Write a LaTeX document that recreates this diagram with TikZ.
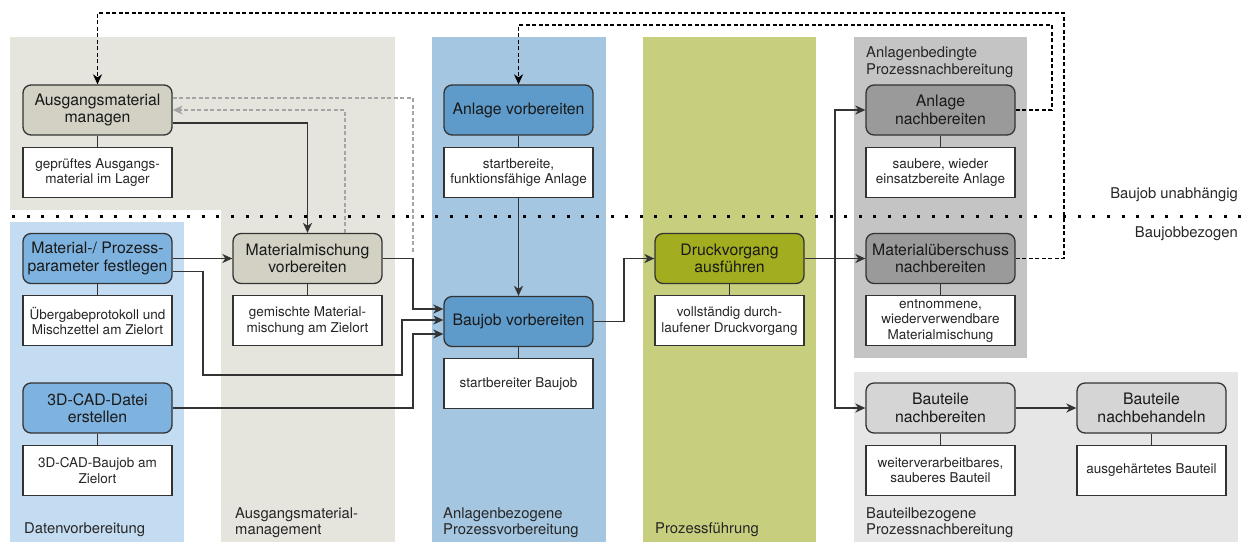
\documentclass[tikz,border=0pt]{standalone}
\usepackage{fontspec}
\setmainfont{TeX Gyre Heros}
\usetikzlibrary{positioning,arrows.meta}
\definecolor{laneBeige}{HTML}{E6E5DD}
\definecolor{nodeBeige}{HTML}{D3D1C3}
\definecolor{laneLightBlue}{HTML}{C4DCF1}
\definecolor{nodeLightBlue}{HTML}{7FB3DF}
\definecolor{laneBlue}{HTML}{A4C6E0}
\definecolor{nodeBlue}{HTML}{5E9BCA}
\definecolor{laneOlive}{HTML}{C7CE7E}
\definecolor{nodeOlive}{HTML}{A2AE1F}
\definecolor{laneGray}{HTML}{C4C4C4}
\definecolor{nodeGray}{HTML}{9A9A9A}
\definecolor{laneLightGray}{HTML}{E6E6E6}
\definecolor{nodeLightGray}{HTML}{D5D5D5}
\definecolor{lineGray}{HTML}{333333}
\definecolor{dashGray}{HTML}{A5A5A5}
\begin{document}
\begin{tikzpicture}[x=1pt, y=-1pt,
    task/.style={draw=lineGray, line width=1.3pt, rounded corners=8pt, minimum width=149pt, minimum height=50pt, inner sep=1pt, align=center, text=black!90, font=\fontsize{15.8}{17.5}\selectfont},
    result/.style={draw=lineGray, line width=1.3pt, fill=white, minimum width=149pt, minimum height=50pt, inner sep=1pt, align=center, text=black!85, font=\fontsize{13.5}{15.5}\selectfont, below=11pt of #1},
    link/.style={draw=lineGray, line width=1.4pt},
    flow/.style={link, -{Stealth[length=10pt,width=9pt,inset=3pt]}},
    backflow/.style={line width=1.4pt, dash pattern=on 4pt off 2.5pt, -{Stealth[length=10pt,width=9pt,inset=3pt]}},
    greyflow/.style={backflow, dashGray},
    lanetext/.style={anchor=north west, inner sep=0pt, align=left, text=black!85, font=\fontsize{14.8}{16.5}\selectfont}]
    \useasboundingbox (0,0) rectangle (1244,542);

    % Lanes
    \fill[laneBeige] (10,37) rectangle (395,210);
    \fill[laneBeige] (221,210) rectangle (395,542);
    \fill[laneLightBlue] (10,222) rectangle (184,542);
    \fill[laneBlue] (432,37) rectangle (606,542);
    \fill[laneOlive] (643,37) rectangle (816,542);
    \fill[laneGray] (854,37) rectangle (1027,358);
    \fill[laneLightGray] (854,372) rectangle (1238,542);

    \node[lanetext] (l1) at (24,522) {Datenvorbereitung};
    \node[lanetext] (l2) at (235,507) {Ausgangsmaterial-\\management};
    \node[lanetext] (l3) at (443,507) {Anlagenbezogene\\Prozessvorbereitung};
    \node[lanetext] (l4) at (655,522) {Prozessführung};
    \node[lanetext] (l5) at (866,47) {Anlagenbedingte\\Prozessnachbereitung};
    \node[lanetext] (l6) at (866,507) {Bauteilbezogene\\Prozessnachbereitung};

    % Baujob border
    \draw[line width=3pt, dash pattern=on 3pt off 11.6pt] (12,216) -- (1244,216);
    \node[lanetext, anchor=north east] (up) at (1238,188) {Baujob unabhängig};
    \node[lanetext, anchor=north east] (down) at (1238,227) {Baujobbezogen};

    % Tasks
    \node[task, fill=nodeBeige] (am) at (97.5,110) {Ausgangsmaterial\\managen};
    \node[result=am] (amr) {geprüftes Ausgangs-\\material im Lager};
    \node[task, fill=nodeLightBlue] (mp) at (97.5,258.5) {Material-/ Prozess-\\parameter festlegen};
    \node[result=mp] (mpr) {Übergabeprotokoll und\\Mischzettel am Zielort};
    \node[task, fill=nodeLightBlue] (cad) at (97.5,408) {3D-CAD-Datei\\erstellen};
    \node[result=cad] (cadr) {3D-CAD-Baujob am\\Zielort};
    \node[task, fill=nodeBeige] (mm) at (307.5,258.5) {Materialmischung\\vorbereiten};
    \node[result=mm] (mmr) {gemischte Material-\\mischung am Zielort};
    \node[task, fill=nodeBlue] (av) at (518.5,110) {Anlage vorbereiten};
    \node[result=av] (avr) {startbereite,\\funktionsfähige Anlage};
    \node[task, fill=nodeBlue] (bj) at (518.5,321.5) {Baujob vorbereiten};
    \node[result=bj] (bjr) {startbereiter Baujob};
    \node[task, fill=nodeOlive] (dv) at (729.5,258.5) {Druckvorgang\\ausführen};
    \node[result=dv] (dvr) {vollständig durch-\\laufener Druckvorgang};
    \node[task, fill=nodeGray] (an) at (940.5,110) {Anlage\\nachbereiten};
    \node[result=an] (anr) {saubere, wieder\\einsatzbereite Anlage};
    \node[task, fill=nodeGray] (mu) at (940.5,258.5) {Materialüberschuss\\nachbereiten};
    \node[result=mu] (mur) {entnommene,\\wiederverwendbare\\Materialmischung};
    \node[task, fill=nodeLightGray] (bn) at (940.5,408) {Bauteile\\nachbereiten};
    \node[result=bn] (bnr) {weiterverarbeitbares,\\sauberes Bauteil};
    \node[task, fill=nodeLightGray] (bb) at (1151.5,408) {Bauteile\\nachbehandeln};
    \node[result=bb] (bbr) {ausgehärtetes Bauteil};

    % Results
    \foreach \t in {am,mp,cad,mm,av,bj,dv,an,mu,bn,bb}
        \draw[link] (\t) -- (\t r);

    % Flows
    \draw[flow] ([yshift=-13pt]am.east) -| (mm.north);
    \draw[greyflow] ([xshift=37.5pt]mm.north) |- (am.east);
    \draw[dashGray, line width=1.4pt, dash pattern=on 4pt off 2.5pt] ([yshift=12pt]am.east) -| (413,253);
    \draw[flow] (mp.east) -- (mm.west);
    \draw[flow] ([yshift=-13pt]mp.east) -| (203,375) -| (402,340) |- ([yshift=1.5pt]bj.west);
    \draw[flow] (mm.east) -| (413,290) |- ([yshift=12.5pt]bj.west);
    \draw[flow] (cad.east) -| (413,360) |- ([yshift=-12.5pt]bj.west);
    \draw[flow] (avr) -- (bj);
    \draw[flow] (bj.east) -| (624,290) |- (dv.west);
    \coordinate (split) at (835,258.5);
    \draw[flow] (dv.east) -- (mu.west);
    \draw[flow] (split) |- (an.west);
    \draw[flow] (split) |- (bn.west);
    \draw[flow] (bn) -- (bb);

    % Feedback
    \draw[backflow] (an.east) -| (1052,25) -| (av.north);
    \draw[backflow] (mu.east) -| (1064,13) -| (am.north);
\end{tikzpicture}
\end{document}
